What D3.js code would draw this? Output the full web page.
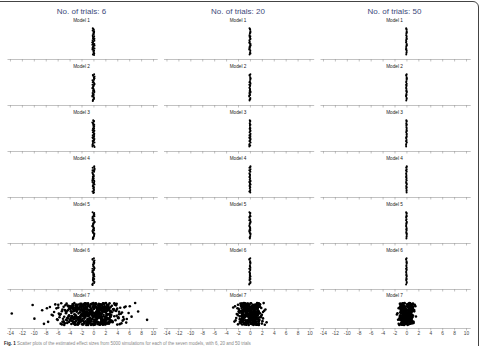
<!DOCTYPE html>
<html>
<head>
<meta charset="utf-8">
<script src="https://cdn.jsdelivr.net/npm/d3@7"></script>
<style>
body { margin: 0; background: #fff; }
svg { display: block; font-family: "Liberation Sans", Arial, sans-serif; }
.axis path, .axis line { stroke: #999; stroke-width: 0.6; }
.axis text { font-size: 4.8px; fill: #444; font-family: "Liberation Sans", Arial, sans-serif; }
</style>
</head>
<body>
<script>
// column titles, model names and ticks
var trialTitles = ["No. of trials: 6", "No. of trials: 20", "No. of trials: 50"];
var modelNames = ["Model 1", "Model 2", "Model 3", "Model 4", "Model 5", "Model 6", "Model 7"];
var tickValues = [-14, -12, -10, -8, -6, -4, -2, 0, 2, 4, 6, 8, 10];

// 6 trials, models 1-6 (estimates read off the narrow strips)
var m1_t6 = [0.04,-0.11,0.17,-0.05,0.09,-0.18,0.01,0.13,-0.07,0.06,-0.14,0.11,-0.02,0.15,-0.09,0.03,-0.16,0.12,-0.04,0.08,-0.12,0.19,-0.01,0.07,-0.17,0.1,-0.06,0.14,-0.1,0.02,-0.13,0.16,-0.03,0.05,-0.19,0.11,-0.08,0.18,0,-0.15];
var m2_t6 = [-0.08,0.12,-0.15,0.05,0.18,-0.02,0.09,-0.12,0.14,-0.06,0.01,-0.19,0.1,0.03,-0.09,0.16,-0.04,0.07,-0.13,0.11,-0.01,0.15,-0.1,0.06,-0.17,0.13,0.02,-0.07,0.08,-0.14,0.19,-0.05,0.04,-0.16,0.12,-0.11,0.17,-0.03,0.09,-0.18];
var m3_t6 = [0.1,-0.04,0.16,-0.13,0.02,0.08,-0.18,0.12,-0.07,0.05,-0.1,0.18,-0.02,0.13,-0.15,0.04,0.09,-0.06,0.15,-0.11,0.01,-0.16,0.11,0.06,-0.03,0.14,-0.12,0.07,-0.08,0.17,-0.19,0.03,-0.09,0.13,-0.01,0.19,-0.14,0.06,-0.05,0.11];
var m4_t6 = [-0.02,0.14,-0.1,0.07,-0.16,0.11,0.03,-0.07,0.18,-0.13,0.05,-0.04,0.12,-0.18,0.09,0.01,-0.11,0.16,-0.06,0.1,-0.14,0.04,0.13,-0.09,0.07,-0.01,0.15,-0.15,0.02,-0.05,0.19,-0.12,0.08,-0.17,0.11,-0.03,0.06,-0.08,0.17,-0.19];
var m5_t6 = [0.07,-0.14,0.12,-0.03,0.17,-0.09,0.02,-0.17,0.1,0.05,-0.06,0.14,-0.12,0.08,-0.01,0.19,-0.1,0.03,-0.15,0.11,0.06,-0.07,0.13,-0.04,0.16,-0.13,0.01,-0.08,0.09,-0.18,0.15,-0.02,0.12,-0.16,0.04,-0.11,0.18,-0.05,0.08,-0.19];
var m6_t6 = [-0.05,0.09,-0.17,0.14,0.02,-0.1,0.12,-0.03,0.16,-0.14,0.06,-0.08,0.11,0.01,-0.19,0.13,-0.06,0.08,-0.12,0.17,-0.02,0.05,-0.15,0.1,-0.09,0.15,0.03,-0.11,0.07,-0.04,0.18,-0.16,0.04,-0.07,0.12,-0.13,0.19,-0.01,0.09,-0.18];
var m7_t6 = [
  -3.2,0.4,-1.7,2.1,-0.6,1.3,-2.5,0.9,-3.8,1.8,-0.2,2.7,-1.1,0.1,-2.9,1.5,-0.9,2.4,-1.9,0.6,
  -0.4,1.1,-2.2,2.9,-3.5,0.2,-1.4,1.9,-0.8,2.5,-2.7,0.7,-1.6,1.4,-3.1,0.0,-0.5,2.2,-2.1,1.0,
  -1.2,2.6,-3.6,0.5,-0.1,1.7,-2.4,0.8,-1.8,2.0,-3.3,1.2,-0.7,2.8,-2.6,0.3,-1.5,1.6,-3.9,0.9,
  -0.3,2.3,-2.0,1.4,-1.0,0.6,-3.0,2.1,-0.9,1.1,-2.8,0.1,-1.3,2.7,-3.4,1.8,-0.6,0.4,-2.3,1.5,
  -1.7,0.2,-3.7,2.4,-0.2,1.3,-2.5,0.8,-1.1,2.9,-3.2,0.5,-0.7,1.9,-2.0,1.0,-1.4,2.2,-3.5,0.7,
  -0.5,1.6,-2.9,0.3,-1.9,2.6,-3.0,1.2,-0.8,0.0,-2.2,1.7,-1.6,2.0,-3.8,0.9,-0.1,1.4,-2.7,2.5,
  -1.0,0.6,-3.3,1.9,-0.4,2.8,-2.4,0.2,-1.2,1.1,-2.6,2.3,-0.9,0.4,-3.6,1.6,-1.8,0.8,-0.2,2.0,
  -2.1,1.3,-3.1,0.1,-1.5,2.7,-0.6,1.8,-2.8,0.5,-1.1,2.4,-3.4,1.0,-0.3,1.5,-2.3,0.7,-1.7,2.9,
  -0.7,1.2,-2.0,0.3,-3.9,2.1,-1.3,0.9,-2.5,1.7,-0.1,2.6,-3.2,0.6,-1.9,1.4,-0.5,2.2,-2.9,0.0,
  -1.4,1.9,-3.7,0.8,-0.8,2.5,-2.2,1.1,-1.0,0.4,-3.0,2.8,-0.4,1.6,-2.7,0.2,-1.6,2.0,-3.5,1.3,
  -0.2,0.5,-2.4,1.8,-1.2,2.3,-3.3,0.7,-0.9,1.0,-2.1,2.7,-1.7,0.1,-3.8,1.5,-0.6,2.4,-2.6,0.9,
  -2.4,0.3,-1.0,1.7,-0.5,2.2,-3.1,0.8,-1.8,1.2,-0.2,2.6,-2.7,0.5,-1.4,1.9,-0.8,0.0,-2.0,1.4,
  -1.1,2.0,-2.9,0.6,-0.3,1.5,-2.2,1.0,-1.6,2.4,-3.4,0.2,-0.7,1.8,-2.5,0.9,-1.3,2.8,-0.1,0.4,
  -2.6,1.1,-0.6,2.3,-1.9,0.1,-3.6,1.6,-0.9,0.7,-2.3,2.5,-1.2,0.3,-3.0,1.3,-0.4,2.1,-1.7,0.8,
  -0.8,1.9,-2.1,0.5,-1.5,2.7,-3.3,1.0,-0.1,1.6,-2.8,0.2,-1.0,2.2,-2.4,0.6,-0.6,1.4,-3.7,2.0,
  -1.4,0.9,-2.6,1.8,-0.3,0.0,-3.2,2.4,-1.1,1.2,-2.0,0.4,-0.9,2.9,-1.8,0.7,-2.9,1.5,-0.5,1.1,
  -2.2,0.6,-1.3,2.1,-3.5,0.3,-0.7,1.7,-1.6,2.6,-2.5,1.0,-0.2,1.3,-3.0,0.1,-1.9,2.3,-1.0,0.8,
  -0.4,1.5,-2.7,0.9,-1.2,2.0,-3.8,0.4,-0.8,1.8,-2.1,2.7,-1.5,0.2,-2.4,1.1,-0.1,1.6,-3.3,0.5,
  -1.7,2.5,-0.6,1.2,-2.3,0.0,-1.1,1.9,-2.8,0.7,-0.3,2.2,-3.1,1.4,-1.4,0.3,-2.0,2.8,-0.9,1.0,
  -1.9,0.2,-3.0,1.6,-0.7,2.3,-2.5,1.0,-1.3,0.5,-3.6,2.0,-0.2,1.3,-2.2,0.8,-1.0,2.6,-2.8,0.0,
  -0.6,1.7,-2.0,0.4,-3.3,2.1,-1.5,1.1,-0.4,2.8,-2.6,0.7,-1.2,1.4,-3.9,0.3,-0.9,1.9,-2.4,1.2,
  -1.6,0.9,-2.9,2.4,-0.1,1.5,-3.2,0.6,-1.8,2.2,-0.8,0.1,-2.3,1.8,-1.1,2.9,-3.5,0.4,-0.5,1.0,
  -2.7,1.4,-0.3,2.0,-1.4,0.8,-3.1,1.7,-2.1,0.3,-0.6,2.5,-1.7,1.1,-3.4,0.5,-1.0,2.3,-2.0,0.2,
  -4.3,-5.1,-4.7,-5.8,-4.1,-6.2,-4.9,-5.4,-4.5,-6.0,-4.2,-5.6,-4.8,-5.2,-4.4,-6.4,-4.6,-5.0,-5.9,-4.0,
  -5.3,-4.7,-6.1,-4.3,-5.5,-4.9,-4.1,-5.7,-4.5,-6.6,-4.4,-5.0,-4.1,-5.5,-4.8,-4.2,-5.9,-4.6,-5.2,-4.0,
  -4.2,-4.9,-5.3,-4.6,-4.0,-5.7,-4.4,
  3.3,4.1,3.6,4.8,3.1,5.2,3.9,4.4,3.4,5.6,3.8,4.6,3.2,4.0,5.0,3.5,4.3,3.7,5.4,3.0,4.7,3.9,4.2,3.6,5.9,
  3.2,4.5,3.5,4.0,3.8,5.1,3.1,4.3,5.5,3.4,4.2,3.9,3.1,4.9,
  -7.3,-6.8,-8.3,-8.6,-9.9,-10.2,-13.7,-7.6,-7.8,6.4,7.0,7.5,9.0,6.1,-7.0
];

// 20 trials
var m1_t20 = [0.03,-0.07,0.1,-0.02,0.06,-0.11,0.01,0.08,-0.05,0.04,-0.09,0.07,-0.01,0.11,-0.06,0.02,-0.1,0.09,-0.03,0.05,-0.08,0.12,0,0.04,-0.12,0.07,-0.04,0.09,-0.06,0.02];
var m2_t20 = [-0.05,0.08,-0.1,0.03,0.11,-0.01,0.06,-0.08,0.09,-0.04,0.01,-0.12,0.07,0.02,-0.06,0.1,-0.03,0.05,-0.09,0.07,-0.01,0.1,-0.07,0.04,-0.11,0.08,0.01,-0.05,0.06,-0.09];
var m3_t20 = [0.06,-0.03,0.1,-0.08,0.01,0.05,-0.11,0.08,-0.04,0.03,-0.06,0.11,-0.01,0.08,-0.1,0.03,0.06,-0.04,0.1,-0.07,0,-0.1,0.07,0.04,-0.02,0.09,-0.08,0.05,-0.05,0.12];
var m4_t20 = [-0.01,0.09,-0.06,0.04,-0.1,0.07,0.02,-0.04,0.11,-0.08,0.03,-0.03,0.08,-0.11,0.06,0.01,-0.07,0.1,-0.04,0.06,-0.09,0.03,0.08,-0.06,0.05,-0.01,0.1,-0.1,0.01,-0.03];
var m5_t20 = [0.05,-0.09,0.08,-0.02,0.11,-0.06,0.01,-0.11,0.06,0.03,-0.04,0.09,-0.08,0.05,-0.01,0.12,-0.06,0.02,-0.1,0.07,0.04,-0.05,0.08,-0.03,0.1,-0.08,0.01,-0.05,0.06,-0.12];
var m6_t20 = [-0.03,0.06,-0.11,0.09,0.01,-0.06,0.08,-0.02,0.1,-0.09,0.04,-0.05,0.07,0,-0.12,0.08,-0.04,0.05,-0.08,0.11,-0.01,0.03,-0.1,0.06,-0.06,0.1,0.02,-0.07,0.04,-0.03];
var m7_t20 = [
  0.3,-0.8,1.2,-1.4,0.6,-0.2,1.0,-1.1,0.1,0.9,-0.5,1.4,-0.9,0.4,-1.3,0.7,-0.1,1.1,-0.6,0.2,
  -1.0,0.8,-0.3,1.3,-1.5,0.5,-0.7,1.5,-0.4,0.0,1.2,-1.2,0.6,-0.8,0.9,-0.2,1.4,-1.4,0.3,-0.6,
  1.0,-0.9,0.2,-1.1,0.7,-0.1,1.3,-1.3,0.4,-0.5,1.1,-0.7,0.8,-1.5,0.1,0.5,-1.0,1.5,-0.3,0.9,
  -1.2,0.6,-0.4,1.2,-0.8,0.0,1.0,-1.4,0.3,-0.6,1.4,-0.2,0.7,-1.1,0.9,-0.9,0.2,1.3,-1.3,0.4,
  -0.5,1.1,-1.0,0.8,-0.1,1.5,-1.2,0.5,-0.7,0.1,1.2,-1.5,0.6,-0.3,1.0,-0.8,0.3,1.4,-0.4,0.0,
  0.9,-1.1,0.2,-0.6,1.3,-1.4,0.7,-0.2,1.1,-0.9,0.4,-1.3,0.8,-0.5,1.5,-1.0,0.1,-0.7,1.2,-0.1,
  0.5,-1.2,1.0,-0.3,0.6,-1.5,1.4,-0.8,0.2,-0.4,0.9,-1.1,1.3,-0.6,0.0,0.7,-1.4,1.1,-0.2,0.3,
  -0.9,1.2,-0.5,0.4,-1.3,1.5,-0.1,0.8,-1.0,0.2,1.0,-0.7,0.6,-1.2,1.3,-0.3,0.1,-0.8,0.9,-1.4,
  1.1,-0.6,0.3,-1.5,0.7,-0.2,1.4,-1.1,0.5,-0.4,1.2,-0.9,0.0,-1.3,0.8,-0.7,1.5,-0.1,0.4,-1.0,
  0.6,-1.2,1.0,-0.5,0.2,-0.8,1.3,-1.4,0.9,-0.3,0.1,-1.1,1.1,-0.6,0.7,-1.5,0.4,-0.2,1.2,-0.9,
  -0.4,1.0,-1.2,0.2,0.7,-0.9,1.3,-0.1,0.5,-1.4,0.8,-0.6,0.0,1.1,-1.0,0.3,-0.3,1.4,-0.7,0.6,
  1.2,-0.5,0.1,-1.1,0.9,-0.2,0.4,-1.3,1.0,-0.8,0.6,-0.4,1.3,-1.2,0.2,-0.7,0.8,-0.1,1.1,-1.0,
  -0.3,0.5,-1.4,1.2,-0.6,0.0,0.9,-0.9,0.3,-1.1,1.4,-0.2,0.7,-0.5,1.0,-1.3,0.1,-0.8,0.4,1.3,
  0.8,-1.0,0.2,-0.4,1.1,-1.2,0.6,-0.7,1.5,-0.1,0.3,-1.4,0.9,-0.3,0.0,-0.9,1.2,-0.6,0.5,-1.1,
  -0.8,1.3,-0.2,0.4,-1.5,0.7,-0.5,1.0,-1.0,0.1,1.4,-0.7,0.6,-1.3,0.2,-0.4,0.9,-1.2,1.1,-0.1,
  0.3,-0.9,1.2,-0.3,0.5,-1.1,0.8,-0.5,0.0,1.5,-1.4,0.4,-0.2,1.0,-0.8,0.6,-1.0,1.3,-0.6,0.1,
  -1.7,-2.1,1.8,2.3,-1.9,1.6,-2.5,2.0,-1.6,2.6,-2.3,1.7,-1.8,2.1,-2.8,1.9,-2.0,2.4,-1.7,1.6,
  -2.2,2.8,-1.9,1.8,-1.6,2.2,-2.4,1.7,-2.0,2.0,-1.8,2.2,-2.0,1.7,-2.6,1.9,-1.7,2.5
];

// 50 trials
var m1_t50 = [0.02,-0.04,0.05,-0.01,0.03,-0.06,0,0.04,-0.03,0.02,-0.05,0.04,-0.01,0.06,-0.03,0.01,-0.05,0.05,-0.02,0.03,-0.04,0.06,0,0.02,-0.06,0.04];
var m2_t50 = [-0.03,0.04,-0.05,0.02,0.06,-0.01,0.03,-0.04,0.05,-0.02,0,-0.06,0.04,0.01,-0.03,0.05,-0.02,0.03,-0.05,0.04,-0.01,0.06,-0.04,0.02,-0.06,0.03];
var m3_t50 = [0.03,-0.02,0.05,-0.05,0.01,0.03,-0.06,0.04,-0.03,0.02,-0.04,0.06,-0.01,0.04,-0.05,0.02,0.03,-0.02,0.05,-0.04,0,-0.05,0.04,0.02,-0.01,0.05];
var m4_t50 = [-0.01,0.05,-0.03,0.02,-0.05,0.04,0.01,-0.02,0.06,-0.04,0.02,-0.02,0.04,-0.06,0.03,0,-0.04,0.05,-0.02,0.03,-0.05,0.02,0.04,-0.03,0.03,-0.01];
var m5_t50 = [0.02,-0.05,0.04,-0.01,0.06,-0.03,0.01,-0.06,0.03,0.02,-0.02,0.05,-0.04,0.03,0,0.06,-0.03,0.01,-0.05,0.04,0.02,-0.02,0.04,-0.01,0.05,-0.04];
var m6_t50 = [-0.02,0.03,-0.06,0.05,0.01,-0.03,0.04,-0.01,0.05,-0.05,0.02,-0.03,0.04,0,-0.06,0.04,-0.02,0.03,-0.04,0.06,-0.01,0.02,-0.05,0.03,-0.03,0.05];
var m7_t50 = [
  0.2,-0.6,0.9,-1.0,0.4,-0.1,0.7,-0.8,0.0,0.6,-0.4,1.0,-0.7,0.3,-0.9,0.5,-0.2,0.8,-0.5,0.1,
  -0.3,0.9,-1.1,0.4,-0.6,1.1,-0.2,0.7,-0.9,0.0,0.5,-0.7,0.2,-1.0,0.8,-0.4,0.6,-0.8,0.3,-0.1,
  1.0,-0.5,0.1,-0.9,0.6,-0.3,0.8,-1.1,0.4,-0.2,0.9,-0.6,0.0,-0.8,0.7,-0.4,1.1,-0.7,0.2,-1.0,
  0.5,-0.1,0.8,-0.6,0.3,-0.9,1.0,-0.3,0.1,-0.7,0.6,-1.1,0.4,-0.5,0.9,-0.2,0.7,-0.8,0.0,0.2,
  -0.4,1.1,-0.9,0.5,-0.2,0.8,-0.6,0.1,-1.0,0.6,-0.3,0.9,-0.7,0.3,-0.5,1.0,-0.1,0.4,-0.8,0.7,
  0.0,-1.1,0.6,-0.4,0.9,-0.7,0.2,-0.2,0.5,-0.9,1.0,-0.5,0.3,-0.6,0.8,-1.0,0.1,-0.3,0.7,-0.8,
  0.4,-0.7,1.1,-0.1,0.2,-0.5,0.6,-0.9,0.8,-0.2,0.0,-0.6,0.9,-1.0,0.5,-0.4,0.3,-0.8,1.0,-0.3,
  -0.9,0.1,-0.3,0.7,-1.1,0.5,-0.6,0.3,-0.1,0.9,-0.7,0.4,-0.4,1.1,-0.8,0.2,-0.2,0.6,-0.5,0.8,
  0.1,-0.5,0.8,-0.8,0.4,-0.2,0.6,-1.0,0.3,-0.4,0.9,-0.6,0.0,0.7,-0.9,0.2,-0.3,1.0,-0.7,0.5,
  -0.1,0.6,-1.0,0.3,-0.5,0.9,-0.3,0.8,-0.8,0.1,0.4,-0.6,0.2,-0.9,0.7,-0.4,0.5,-0.7,1.0,-0.2,
  0.6,-0.3,0.0,-0.7,0.9,-0.1,0.3,-1.0,0.5,-0.5,0.8,-0.8,0.2,-0.4,0.7,-0.6,1.0,-0.2,0.1,-0.9,
  -0.6,0.2,-0.9,0.7,-0.3,0.5,-0.1,1.0,-0.8,0.4,-0.5,0.8,-1.0,0.0,0.6,-0.2,0.3,-0.7,0.9,-0.4,
  0.4,-0.8,0.1,-0.2,0.7,-0.6,1.0,-0.4,0.3,-0.9,0.5,-0.1,0.8,-0.5,0.0,-1.0,0.6,-0.3,0.2,-0.7,
  -1.3,1.3,-1.2,1.4,-1.5,1.2,-1.3,1.6,-1.2,1.3,-1.4,1.5,-1.6,1.2
];

var panels = [
  [m1_t6, m2_t6, m3_t6, m4_t6, m5_t6, m6_t6, m7_t6],
  [m1_t20, m2_t20, m3_t20, m4_t20, m5_t20, m6_t20, m7_t20],
  [m1_t50, m2_t50, m3_t50, m4_t50, m5_t50, m6_t50, m7_t50]
];

var width = 482, height = 346;
var colLeft = [7, 163.5, 320], colWidth = 150.2;
var axisY = [59, 105, 151, 197, 243, 289, 328];

// vertical jitter inside a strip (layout only)
function jitter(i) {
  var v = i * 0.618034 + 0.37;
  return v - Math.floor(v);
}

var svg = d3.select("body").append("svg")
    .attr("width", width)
    .attr("height", height);

svg.append("rect")
    .attr("width", width)
    .attr("height", height)
    .attr("fill", "#fff");

// page frame, top and right
svg.append("path")
    .attr("d", "M0,1.5H473A5.5,5.5 0 0 1 478.5,7V346")
    .attr("fill", "none")
    .attr("stroke", "#444")
    .attr("stroke-width", 1);

panels.forEach(function(models, c) {
  var x = d3.scaleLinear()
      .domain([-14.5, 10.7])
      .range([colLeft[c], colLeft[c] + colWidth]);

  var g = svg.append("g");

  g.append("text")
      .attr("x", x(-2))
      .attr("y", 14)
      .attr("text-anchor", "middle")
      .attr("font-size", "8px")
      .attr("fill", "#3d4a7a")
      .text(trialTitles[c]);

  models.forEach(function(vals, r) {
    var last = r === models.length - 1;
    var ay = axisY[r];
    var y = d3.scaleLinear()
        .domain([0, 1])
        .range(last ? [ay - 3, ay - 25] : [ay - 4, ay - 31]);

    g.append("text")
        .attr("x", x(-2))
        .attr("y", ay - (last ? 31 : 37))
        .attr("text-anchor", "middle")
        .attr("font-size", "4.7px")
        .attr("fill", "#222")
        .text(modelNames[r]);

    g.append("g")
        .attr("class", "axis")
        .attr("transform", "translate(0," + ay + ")")
        .call(d3.axisBottom(x)
          .tickValues(tickValues)
          .tickSize(2.5)
          .tickSizeOuter(0)
          .tickPadding(1.5)
          .tickFormat(last ? function(d) { return String(d); } : ""));

    g.append("g").selectAll("circle")
        .data(vals)
      .enter().append("circle")
        .attr("cx", function(d) { return x(d); })
        .attr("cy", function(d, i) { return y(jitter(i)); })
        .attr("r", last ? 1.3 : 1)
        .attr("fill", "#000");
  });
});

// caption at the bottom edge
var cap = svg.append("text")
    .attr("x", 4)
    .attr("y", 344.6)
    .attr("font-size", "4.5px");
cap.append("tspan").attr("font-weight", "bold").attr("fill", "#222").text("Fig. 1 ");
cap.append("tspan").attr("fill", "#888")
    .text("Scatter plots of the estimated effect sizes from 5000 simulations for each of the seven models, with 6, 20 and 50 trials");
</script>
</body>
</html>
